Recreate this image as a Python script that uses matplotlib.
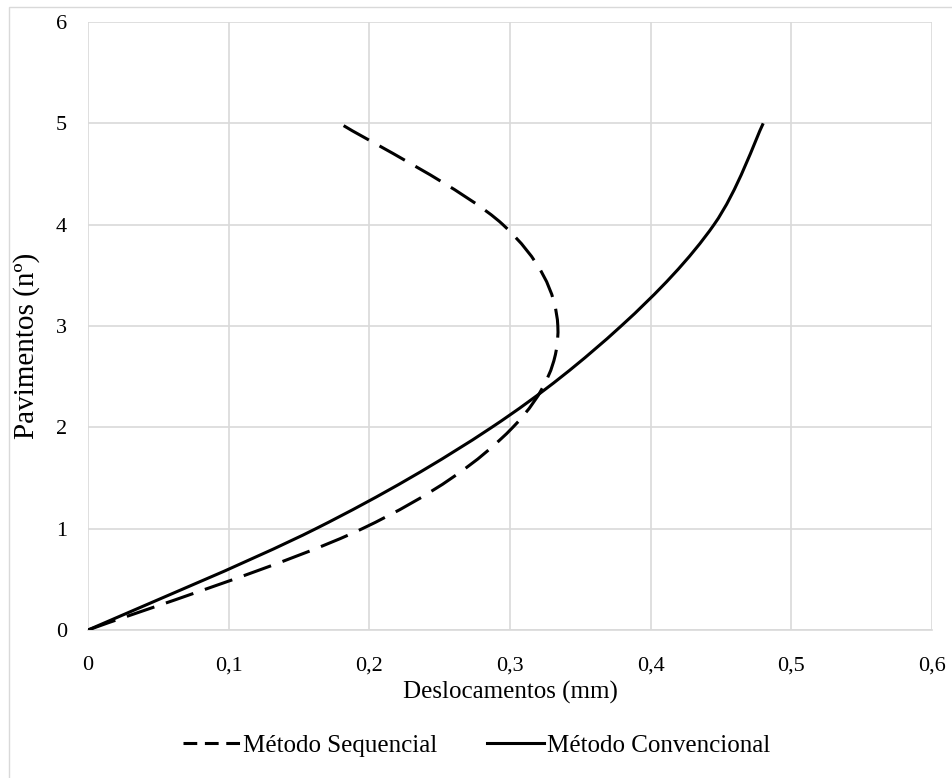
import matplotlib
matplotlib.use("Agg")
import matplotlib.pyplot as plt
import numpy as np
from matplotlib.path import Path
from matplotlib.patches import PathPatch, Rectangle
from matplotlib.lines import Line2D
from matplotlib.ticker import FuncFormatter

pavimentos = [0, 1, 2, 3, 4, 5]
desl_sequencial = [0, 0.195, 0.302, 0.334, 0.295, 0.179]
desl_convencional = [0, 0.162, 0.287, 0.379, 0.445, 0.48]


def smooth_path(x, y):
    # bezier curve through the points, like excel's smoothed line
    p = np.column_stack([x, y]).astype(float)
    n = len(p)
    verts = [p[0]]
    codes = [Path.MOVETO]
    for i in range(n - 1):
        p0 = p[i - 1] if i > 0 else p[i]
        p3 = p[i + 2] if i + 2 < n else p[i + 1]
        c1 = p[i] + (p[i + 1] - p0) / 6
        c2 = p[i + 1] - (p3 - p[i]) / 6
        verts += [c1, c2, p[i + 1]]
        codes += [Path.CURVE4] * 3
    return Path(verts, codes)


plt.rcParams['font.family'] = ['Liberation Serif', 'DejaVu Serif']

fig = plt.figure(figsize=(9.53, 7.78), dpi=100)
ax = fig.add_axes([0.0923, 0.1902, 0.8857, 0.7815])

lw = 2.2
seq = PathPatch(smooth_path(desl_sequencial, pavimentos), fill=False,
                edgecolor='black', lw=lw, linestyle=(0, (9.5, 4)),
                capstyle='butt', zorder=3)
conv = PathPatch(smooth_path(desl_convencional, pavimentos), fill=False,
                 edgecolor='black', lw=lw, zorder=3)
ax.add_patch(seq)
ax.add_patch(conv)

ax.set_xlim(0, 0.6)
ax.set_ylim(0, 6)
ax.set_xticks(np.arange(0, 0.61, 0.1))
ax.set_yticks(range(0, 7))
ax.xaxis.set_major_formatter(FuncFormatter(lambda v, p: ('%g' % round(v, 1)).replace('.', ',')))
ax.grid(True, color='#d9d9d9', lw=1.2)
ax.set_axisbelow(True)
for s in ['top', 'right', 'left']:
    ax.spines[s].set_visible(False)
ax.spines['bottom'].set_color('#d9d9d9')
ax.spines['bottom'].set_linewidth(1.2)
ax.tick_params(length=0, labelsize=16, colors='black', pad=19)
ax.tick_params(axis='y', pad=15)

ax.set_xlabel('Deslocamentos (mm)', fontsize=18, labelpad=4)
ax.set_ylabel('Pavimentos (nº)', fontsize=21)
ax.yaxis.set_label_coords(-0.057, 0.467)

handles = [Line2D([], [], color='black', lw=lw, linestyle=(0, (4.5, 2.5))),
           Line2D([], [], color='black', lw=lw)]
fig.legend(handles, ['Método Sequencial', 'Método Convencional'],
           loc='center', bbox_to_anchor=(0.5, 0.042), ncol=2, frameon=False,
           fontsize=18, handlelength=2.3, handletextpad=0.1, columnspacing=2.0)

fig.patches.append(Rectangle((9 / 953, -0.05), 1.1, 1.05 - 7 / 778,
                             transform=fig.transFigure, fill=False,
                             edgecolor='#d9d9d9', lw=1))

fig.savefig('out.png', dpi=100)
